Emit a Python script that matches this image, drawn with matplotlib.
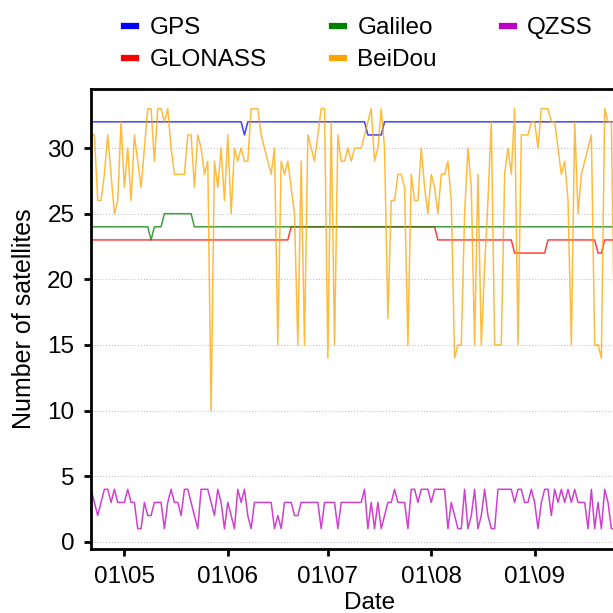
import matplotlib
matplotlib.use("Agg")
import matplotlib.pyplot as plt
import matplotlib.dates as mdates
from matplotlib.lines import Line2D
import pandas as pd

start_date = "2021-04-21"
n_days = 158

gps = [32]*46 + [31] + [32]*36 + [31]*5 + [32]*70
glonass = [23]*60 + [24]*44 + [23]*23 + [22]*10 + [23]*15 + [22]*2 + [23]*4
galileo = [24]*18 + [23] + [24]*3 + [25]*9 + [24]*127
beidou = [31, 31, 26, 26, 28, 31, 28, 25, 26, 32,
          27, 30, 26, 31, 29, 27, 30, 33, 33, 29,
          33, 33, 32, 33, 30, 28, 28, 28, 28, 31,
          31, 27, 31, 30, 28, 29, 10, 29, 27, 30,
          26, 31, 25, 30, 29, 30, 29, 29, 33, 33,
          33, 31, 30, 29, 28, 30, 15, 29, 28, 29,
          27, 25, 15, 29, 15, 31, 30, 29, 31, 33,
          33, 14, 32, 15, 31, 29, 29, 30, 29, 30,
          30, 30, 31, 32, 33, 29, 30, 33, 30, 17,
          26, 26, 28, 28, 27, 15, 28, 26, 26, 30,
          27, 25, 28, 27, 25, 28, 28, 29, 26, 14,
          15, 15, 25, 30, 27, 15, 28, 15, 21, 26,
          32, 15, 15, 15, 28, 30, 28, 33, 15, 31,
          31, 31, 32, 32, 30, 33, 33, 33, 32, 32,
          30, 28, 29, 26, 15, 32, 25, 28, 29, 30,
          31, 15, 15, 14, 33, 32, 32, 14]
qzss = [4, 3, 2, 3, 4, 4, 3, 4, 3, 3,
        3, 4, 3, 3, 1, 1, 3, 2, 2, 3,
        3, 3, 1, 3, 4, 3, 3, 2, 4, 4,
        3, 2, 1, 4, 4, 4, 3, 2, 4, 3,
        1, 3, 2, 1, 4, 3, 4, 2, 1, 3,
        3, 3, 3, 3, 3, 1, 2, 1, 3, 3,
        3, 2, 2, 3, 3, 3, 3, 3, 3, 1,
        3, 3, 3, 3, 1, 3, 3, 3, 3, 3,
        3, 3, 4, 1, 3, 1, 3, 1, 2, 3,
        3, 4, 3, 3, 3, 1, 4, 4, 3, 4,
        4, 4, 3, 4, 4, 4, 4, 1, 3, 2,
        1, 1, 4, 1, 2, 4, 1, 2, 4, 2,
        1, 1, 4, 4, 4, 4, 4, 3, 4, 4,
        3, 3, 4, 3, 1, 3, 4, 4, 2, 4,
        3, 4, 3, 4, 3, 4, 3, 3, 3, 1,
        4, 1, 3, 1, 4, 3, 1, 1]

series_names = ["GPS", "GLONASS", "Galileo", "BeiDou", "QZSS"]
series_colors = ["#0000ff", "#ff0000", "#008000", "#ffa500", "#c000c0"]
tick_dates = ["2021-05-01", "2021-06-01", "2021-07-01", "2021-08-01", "2021-09-01"]
y_ticks = [0, 5, 10, 15, 20, 25, 30]

dates = pd.date_range(start_date, periods=n_days, freq="D")
data = [gps, glonass, galileo, beidou, qzss]

plt.rcParams["font.family"] = ["Liberation Sans", "DejaVu Sans"]
fig = plt.figure(figsize=(6.13, 6.13), dpi=100)
ax = fig.add_axes([0.1485, 0.1044, 0.9087, 0.7504])

for vals, name, col in zip(data, series_names, series_colors):
    ax.plot(dates, vals, color=col, lw=1.1, alpha=0.75, label=name)

ax.set_xlim(pd.Timestamp(start_date), pd.Timestamp(start_date) + pd.Timedelta(days=167))
ax.set_ylim(-0.55, 34.5)
ax.set_yticks(y_ticks)
ax.set_xticks(pd.to_datetime(tick_dates))
ax.xaxis.set_major_formatter(mdates.DateFormatter("%d\\%m"))
ax.grid(axis="y", color="#bbbbbb", ls=(0, (1, 2)), lw=0.7)
ax.set_axisbelow(True)
for s in ["left", "bottom", "top"]:
    ax.spines[s].set_linewidth(2)
ax.spines["right"].set_visible(False)
ax.tick_params(axis="both", width=2, length=5, labelsize=17.5, color="black", pad=7)
ax.set_ylabel("Number of satellites", fontsize=18, labelpad=8)
ax.set_xlabel("Date", fontsize=17.5, labelpad=3)

handles = [Line2D([], [], color=c, lw=4.5) for c in series_colors]
fig.legend(handles, series_names, loc="upper left", bbox_to_anchor=(0.175, 1.0),
           ncol=3, frameon=False, fontsize=17.5, handlelength=0.5,
           handletextpad=0.55, columnspacing=2.67, labelspacing=0.42,
           borderaxespad=0.3)

fig.savefig("out.png", dpi=100)
